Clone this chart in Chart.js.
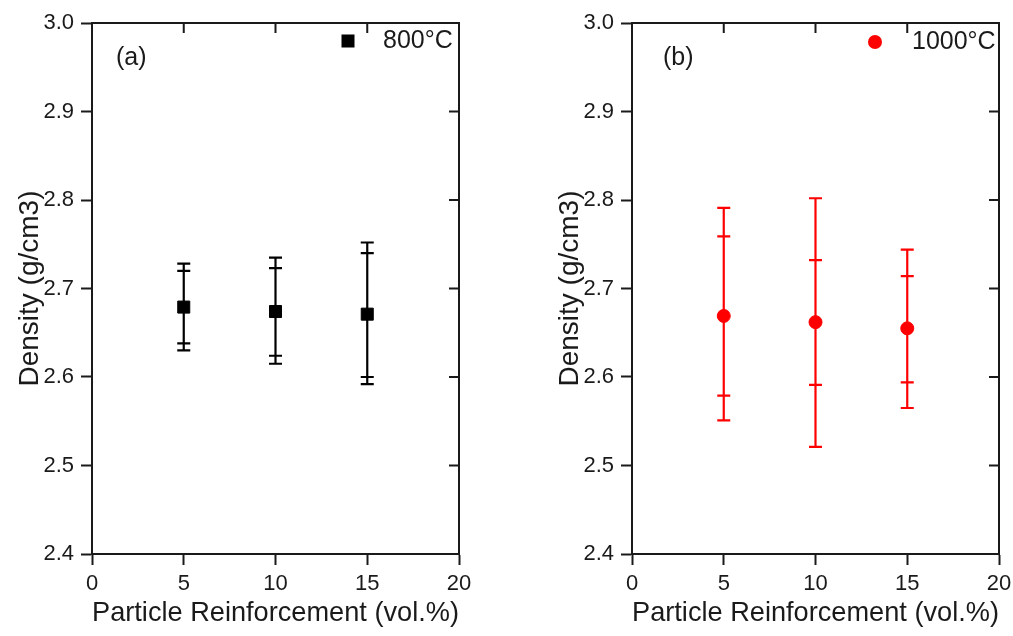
<!DOCTYPE html>
<html>
<head>
<meta charset="utf-8">
<script src="https://cdn.jsdelivr.net/npm/chart.js@4/dist/chart.umd.min.js"></script>
<style>
  html, body { margin: 0; padding: 0; background: #ffffff; }
  body { width: 1013px; height: 636px; position: relative; overflow: hidden; }
  .panel { position: absolute; top: 0; height: 636px; width: 480px; }
  #pa { left: 0; }
  #pb { left: 540px; }
</style>
</head>
<body>
<div class="panel" id="pa"><canvas id="ca"></canvas></div>
<div class="panel" id="pb"><canvas id="cb"></canvas></div>
<script>
// ---- data ----
const reinforcement = [5, 10, 15];
const xTicks = [0, 5, 10, 15, 20];
const yTicks = [2.4, 2.5, 2.6, 2.7, 2.8, 2.9, 3.0];

const density800 = [2.679, 2.674, 2.671];
const inner800Low = [2.638, 2.624, 2.600];
const inner800High = [2.720, 2.723, 2.740];
const outer800Low = [2.630, 2.615, 2.592];
const outer800High = [2.728, 2.735, 2.752];

const density1000 = [2.669, 2.662, 2.655];
const inner1000Low = [2.579, 2.591, 2.594];
const inner1000High = [2.759, 2.732, 2.714];
const outer1000Low = [2.551, 2.521, 2.565];
const outer1000High = [2.791, 2.802, 2.744];

const FONT = '"Liberation Sans", Arial, sans-serif';
const AXIS = '#1a1a1a';

function makeChart(canvasId, cfg) {
  const points = reinforcement.map((x, i) => ({ x: x, y: cfg.values[i] }));

  const errorBars = {
    id: 'errorBars',
    beforeDatasetsDraw(chart) {
      const ctx = chart.ctx, xs = chart.scales.x, ys = chart.scales.y;
      ctx.save();
      ctx.strokeStyle = cfg.color;
      ctx.lineWidth = 2.2;
      const cap = 6.5;
      reinforcement.forEach((xv, i) => {
        const px = xs.getPixelForValue(xv);
        const yTop = ys.getPixelForValue(cfg.outerHigh[i]);
        const yBot = ys.getPixelForValue(cfg.outerLow[i]);
        ctx.beginPath();
        ctx.moveTo(px, yTop); ctx.lineTo(px, yBot);
        [cfg.outerHigh[i], cfg.innerHigh[i], cfg.innerLow[i], cfg.outerLow[i]].forEach(v => {
          const py = ys.getPixelForValue(v);
          ctx.moveTo(px - cap, py); ctx.lineTo(px + cap, py);
        });
        ctx.stroke();
      });
      ctx.restore();
    }
  };

  const frame = {
    id: 'frame',
    afterDraw(chart) {
      const ctx = chart.ctx, a = chart.chartArea, xs = chart.scales.x, ys = chart.scales.y;
      ctx.save();
      ctx.strokeStyle = AXIS;
      ctx.lineWidth = 2;
      ctx.beginPath();
      ctx.moveTo(a.left - 1, a.top); ctx.lineTo(a.right, a.top); ctx.lineTo(a.right, a.bottom);
      // inward ticks on top
      xTicks.slice(1, -1).forEach(v => {
        const px = xs.getPixelForValue(v);
        ctx.moveTo(px, a.top); ctx.lineTo(px, a.top + 10);
      });
      // inward ticks on right
      yTicks.slice(1, -1).forEach(v => {
        const py = ys.getPixelForValue(v);
        ctx.moveTo(a.right, py); ctx.lineTo(a.right - 10, py);
      });
      ctx.stroke();

      // panel label
      ctx.fillStyle = '#1a1a1a';
      ctx.font = '25px ' + FONT;
      ctx.textBaseline = 'middle';
      ctx.textAlign = 'left';
      ctx.fillText(cfg.panel, cfg.panelX, cfg.panelY);

      // legend
      ctx.font = '25px ' + FONT;
      ctx.fillText(cfg.label, cfg.legendTextX, cfg.legendY);
      ctx.fillStyle = cfg.color;
      if (cfg.style === 'rect') {
        ctx.fillRect(cfg.legendMarkX - 6.5, cfg.legendY - 6.5, 13, 13);
      } else {
        ctx.beginPath();
        ctx.arc(cfg.legendMarkX, cfg.legendY, 7, 0, Math.PI * 2);
        ctx.fill();
      }
      ctx.restore();
    }
  };

  return new Chart(document.getElementById(canvasId), {
    type: 'scatter',
    data: {
      datasets: [{
        label: cfg.label,
        data: points,
        pointStyle: cfg.style,
        pointRadius: cfg.style === 'rect' ? 8.5 : 6.5,
        pointHoverRadius: cfg.style === 'rect' ? 8.5 : 6.5,
        pointBackgroundColor: cfg.color,
        pointBorderColor: cfg.color,
        pointBorderWidth: 1,
        showLine: false
      }]
    },
    options: {
      responsive: true,
      maintainAspectRatio: false,
      animation: false,
      events: [],
      layout: { padding: { top: 23, right: 21, left: 0, bottom: 0 } },
      plugins: { legend: { display: false }, tooltip: { enabled: false } },
      scales: {
        x: {
          type: 'linear',
          min: 0, max: 20,
          afterBuildTicks(s) { s.ticks = xTicks.map(v => ({ value: v })); },
          afterFit(s) { s.height = 82; },
          border: { display: true, color: AXIS, width: 2 },
          grid: { drawOnChartArea: false, drawTicks: true, tickLength: 11, tickWidth: 2, tickColor: AXIS },
          ticks: { color: '#1a1a1a', padding: 6, font: { family: FONT, size: 22 }, maxRotation: 0 },
          title: { display: true, text: 'Particle Reinforcement (vol.%)', color: '#1a1a1a',
                   font: { family: FONT, size: 28 }, padding: { top: 0, bottom: 6 } }
        },
        y: {
          type: 'linear',
          min: 2.4, max: 3.0,
          afterBuildTicks(s) { s.ticks = yTicks.map(v => ({ value: v })); },
          afterFit(s) { s.width = 92; },
          border: { display: true, color: AXIS, width: 2 },
          grid: { drawOnChartArea: false, drawTicks: true, tickLength: 11, tickWidth: 2, tickColor: AXIS },
          ticks: { color: '#1a1a1a', padding: 7, font: { family: FONT, size: 22 },
                   callback: v => Number(v).toFixed(1) },
          title: { display: true, text: 'Density (g/cm3)', color: '#1a1a1a',
                   font: { family: FONT, size: 28 }, padding: { top: 13, bottom: 0 } }
        }
      }
    },
    plugins: [errorBars, frame]
  });
}

makeChart('ca', {
  values: density800, innerLow: inner800Low, innerHigh: inner800High,
  outerLow: outer800Low, outerHigh: outer800High,
  color: '#000000', style: 'rect', label: '800°C', panel: '(a)',
  panelX: 116, panelY: 58,
  legendMarkX: 348, legendTextX: 383, legendY: 41
});

makeChart('cb', {
  values: density1000, innerLow: inner1000Low, innerHigh: inner1000High,
  outerLow: outer1000Low, outerHigh: outer1000High,
  color: '#ff0000', style: 'circle', label: '1000°C', panel: '(b)',
  panelX: 123, panelY: 58,
  legendMarkX: 335, legendTextX: 372, legendY: 42
});
</script>
</body>
</html>
